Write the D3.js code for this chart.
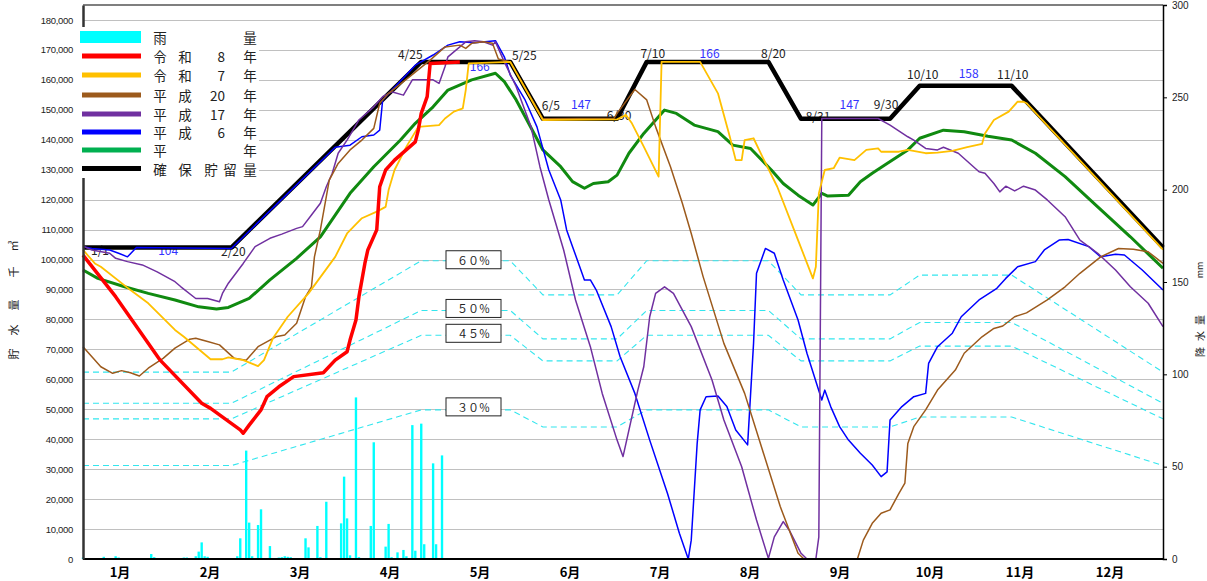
<!DOCTYPE html>
<html>
<head>
<meta charset="utf-8">
<script src="https://cdn.jsdelivr.net/npm/d3@7/dist/d3.min.js"></script>
<style>
  body { margin: 0; background: #fff; }
  svg { display: block; font-family: "Noto Sans CJK JP", "Liberation Sans", sans-serif; }
</style>
</head>
<body>
<svg id="chart" width="1207" height="581"></svg>
<script>
// storage values are in 百万m³ (1 unit = 1,000 千m³ on the left axis)
const months = ['1月', '2月', '3月', '4月', '5月', '6月', '7月', '8月', '9月', '10月', '11月', '12月'];

// 確保貯留量 rule curve
const kakuho = [['1/1', 104], ['2/20', 104], ['4/25', 166], ['5/25', 166], ['6/5', 147], ['6/30', 147],
  ['7/10', 166], ['8/20', 166], ['8/31', 147], ['9/30', 147], ['10/10', 158], ['11/10', 158], ['12/31', 104]];
const kakuhoLabels = ['1/1', '2/20', '4/25', '5/25', '6/5', '6/30', '7/10', '8/20', '8/31', '9/30', '10/10', '11/10'];
const levelLabels = ['104', '166', '147', '166', '147', '158'];
const pctLevels = [0.6, 0.5, 0.45, 0.3];
const pctNames = ['６０％', '５０％', '４５％', '３０％'];

// 雨量 (mm)
const rain = [['1/1', 0.8], ['1/2', 0.5], ['1/3', 0.5], ['1/5', 0.5], ['1/8', 1.2], ['1/9', 0.5], ['1/12', 1.5],
  ['1/13', 0.8], ['1/24', 2.7], ['1/25', 1.0], ['2/2', 0.5], ['2/3', 0.5], ['2/4', 0.8], ['2/5', 0.8],
  ['2/6', 0.5], ['2/8', 1.5], ['2/9', 4.0], ['2/10', 9.0], ['2/11', 1.5], ['2/12', 1.2], ['2/20', 0.5],
  ['2/22', 1.5], ['2/23', 11.2], ['2/25', 58.7], ['2/26', 19.7], ['2/27', 1.5], ['3/1', 18.4], ['3/2', 26.9],
  ['3/5', 7.0], ['3/8', 0.8], ['3/9', 1.0], ['3/10', 1.5], ['3/11', 1.2], ['3/12', 1.0], ['3/13', 0.5],
  ['3/17', 11.2], ['3/18', 6.3], ['3/21', 17.9], ['3/22', 1.0], ['3/24', 31.0], ['3/26', 0.5], ['3/29', 19.3],
  ['3/30', 44.6], ['3/31', 22.0], ['4/1', 2.0], ['4/3', 87.5], ['4/4', 1.0], ['4/8', 17.9], ['4/9', 63.2],
  ['4/13', 6.7], ['4/14', 19.0], ['4/15', 1.0], ['4/17', 3.6], ['4/19', 4.9], ['4/20', 1.5], ['4/22', 72.5],
  ['4/23', 4.5], ['4/25', 73.3], ['4/26', 8.0], ['4/29', 51.8], ['4/30', 8.0], ['5/2', 56.1]];

// 令和8年
const reiwa8 = [['1/1', 101.5], ['1/12', 87.6], ['1/27', 66.4], ['2/10', 52.0], ['2/13', 50.3], ['2/23', 43.1],
  ['2/24', 42.0], ['2/26', 44.7], ['3/2', 49.8], ['3/4', 54.2], ['3/8', 57.5], ['3/13', 60.9], ['3/23', 62.2],
  ['3/27', 66.4], ['3/31', 69.2], ['4/1', 73.1], ['4/3', 79.8], ['4/4', 87.6], ['4/6', 98.7], ['4/7', 103.2],
  ['4/10', 109.9], ['4/11', 124.3], ['4/13', 129.9], ['4/16', 133.2], ['4/23', 139.3], ['4/24', 143.2],
  ['4/25', 148.8], ['4/27', 154.4], ['4/28', 165.5], ['5/8', 166]];

// 令和7年
const reiwa7 = [['1/1', 103.2], ['1/5', 98.7], ['1/7', 97.6], ['1/17', 89.8], ['1/23', 85.4], ['2/1', 76.5],
  ['2/4', 74.2], ['2/13', 66.7], ['2/17', 66.7], ['2/19', 67.3], ['2/24', 66.4], ['3/1', 64.4], ['3/3', 66.4],
  ['3/6', 73.7], ['3/11', 80.9], ['3/18', 88.7], ['3/27', 100.9], ['3/31', 108.7], ['4/5', 113.8],
  ['4/10', 116], ['4/13', 117.6], ['4/14', 123.2], ['4/16', 129.9], ['4/20', 137.7], ['4/24', 144.3],
  ['5/1', 144.9], ['5/3', 147.1], ['5/6', 149.4], ['5/9', 150.5], ['5/10', 156.6], ['5/11', 165.5],
  ['5/25', 166], ['6/5', 146.6], ['6/30', 146.8], ['7/3', 148.3], ['7/5', 145.5], ['7/9', 137.7],
  ['7/14', 127.7], ['7/15', 166], ['7/28', 166], ['8/3', 155.5], ['8/7', 141], ['8/9', 133.2], ['8/11', 133.2],
  ['8/12', 139.9], ['8/15', 140.5], ['8/18', 134.3], ['8/23', 124.3], ['8/30', 106.5], ['9/4', 93.7],
  ['9/5', 97.6], ['9/6', 122.1], ['9/8', 129.9], ['9/11', 130.5], ['9/13', 134], ['9/18', 133.2],
  ['9/22', 136.6], ['9/26', 137.1], ['9/27', 136], ['10/3', 136], ['10/6', 136.6], ['10/12', 135.5],
  ['10/16', 135.7], ['10/21', 136.3], ['10/26', 137.5], ['10/31', 138.6], ['11/1', 142.1], ['11/4', 146.6],
  ['11/9', 149.4], ['11/12', 152.7], ['11/14', 152.7], ['11/15', 152.2], ['12/31', 103.3]];

// 平成20年
const heisei20 = [['1/1', 70.9], ['1/4', 67.5], ['1/7', 64.2], ['1/11', 62.0], ['1/14', 62.9], ['1/17', 62.2],
  ['1/20', 61.1], ['1/23', 63.7], ['1/28', 67.0], ['2/1', 70.4], ['2/6', 73.4], ['2/8', 73.7], ['2/12', 72.6],
  ['2/16', 71.5], ['2/21', 67.0], ['2/25', 66.4], ['3/1', 70.9], ['3/7', 74.2], ['3/10', 74.8], ['3/14', 78.7],
  ['3/17', 87.6], ['3/19', 90.9], ['3/20', 100.9], ['3/22', 109.9], ['3/25', 126.5], ['3/28', 132.1],
  ['4/1', 136.6], ['4/5', 139.9], ['4/9', 143.8], ['4/11', 152.2], ['4/14', 155.5], ['4/21', 161],
  ['4/28', 166.6], ['5/3', 171], ['5/8', 171.6], ['5/10', 170.5], ['5/12', 172.2], ['5/16', 172.7],
  ['5/19', 172.2], ['5/21', 167], ['5/25', 166], ['6/5', 147], ['6/29', 147.2], ['6/30', 148.8],
  ['7/6', 156.8], ['7/10', 153.3], ['7/13', 144.3], ['7/18', 131], ['7/22', 118.8], ['7/25', 108.7],
  ['7/29', 94.3], ['8/5', 72], ['8/12', 55.3], ['8/18', 36.4], ['8/24', 17.5], ['8/30', 1.9], ['9/1', 0],
  ['9/19', 0], ['9/21', 6.3], ['9/24', 11.9], ['9/27', 15.3], ['9/30', 16.4], ['10/3', 21.9], ['10/5', 25.3],
  ['10/6', 38.6], ['10/8', 44.2], ['10/12', 49.8], ['10/16', 56.4], ['10/22', 63.1], ['10/25', 68.7],
  ['10/31', 74.2], ['11/4', 77.0], ['11/7', 77.8], ['11/11', 80.9], ['11/15', 82.2], ['11/22', 86.5],
  ['11/28', 90.9], ['12/3', 95.4], ['12/10', 100.9], ['12/16', 103.7], ['12/21', 103.4], ['12/26', 102.6],
  ['12/31', 98.7]];

// 平成17年
const heisei17 = [['1/1', 104.5], ['1/4', 103.2], ['1/10', 102.1], ['1/12', 100.4], ['1/16', 99.3],
  ['1/21', 98.2], ['1/26', 95.9], ['2/1', 92.6], ['2/3', 90.9], ['2/8', 87.0], ['2/12', 87.0], ['2/16', 85.9],
  ['2/17', 88.7], ['2/19', 92.1], ['2/24', 98.7], ['2/28', 104.3], ['3/5', 107.1], ['3/9', 108.5],
  ['3/14', 110.4], ['3/16', 111], ['3/19', 114.9], ['3/22', 118.8], ['3/24', 124.3], ['3/26', 128.8],
  ['3/28', 135.5], ['3/31', 139.9], ['4/4', 146.6], ['4/9', 151], ['4/12', 154.4], ['4/15', 156],
  ['4/19', 154.9], ['4/22', 160], ['4/29', 160], ['5/1', 158.8], ['5/3', 164.4], ['5/4', 167.7], ['5/8', 171],
  ['5/10', 172.7], ['5/13', 173.1], ['5/16', 172.7], ['5/19', 171.6], ['5/20', 172.7], ['5/23', 166],
  ['5/27', 157.7], ['6/1', 144.3], ['6/4', 131], ['6/7', 119.9], ['6/12', 103.2], ['6/16', 86.5],
  ['6/21', 70.9], ['6/25', 55.3], ['6/30', 39.7], ['7/2', 34.2], ['7/3', 38.6], ['7/7', 56.4], ['7/9', 64.2],
  ['7/11', 80.9], ['7/13', 88.7], ['7/16', 90.9], ['7/19', 88.7], ['7/25', 77.6], ['8/1', 59.8], ['8/5', 46.4],
  ['8/11', 30.8], ['8/16', 13], ['8/20', 0.2], ['8/22', 7.4], ['8/25', 12.5], ['8/27', 9.7], ['8/31', 1.9],
  ['9/2', 0], ['9/5', 0], ['9/6', 7.4], ['9/7', 147.1], ['9/26', 147.1], ['9/30', 144.9], ['10/6', 141],
  ['10/8', 139.9], ['10/12', 137.1], ['10/16', 136.6], ['10/18', 137.5], ['10/23', 135.5], ['10/30', 129.3],
  ['11/1', 128.8], ['11/4', 125.4], ['11/6', 122.6], ['11/8', 124.5], ['11/11', 122.9], ['11/14', 124.5],
  ['11/18', 123.2], ['11/22', 119.9], ['11/28', 114.3], ['12/3', 106.5], ['12/9', 102.1], ['12/15', 96.5],
  ['12/20', 90.9], ['12/26', 85.4], ['12/31', 77.6]];

// 平成6年
const heisei6 = [['1/1', 104.3], ['1/4', 103.7], ['1/10', 103.2], ['1/13', 102.1], ['1/16', 100.9],
  ['1/19', 104], ['2/20', 103.7], ['3/27', 137.5], ['4/1', 138.2], ['4/5', 141], ['4/9', 141.6],
  ['4/11', 143.2], ['4/12', 153.3], ['4/23', 164.9], ['4/29', 168.3], ['5/4', 171.6], ['5/8', 172.7],
  ['5/13', 172.4], ['5/20', 173.1], ['5/23', 167.7], ['5/25', 161.6], ['5/30', 153.3], ['6/3', 144.3],
  ['6/7', 129.9], ['6/11', 119.9], ['6/13', 109.9], ['6/15', 104.3], ['6/19', 93.2], ['6/21', 93.2],
  ['6/23', 89.8], ['6/28', 77.6], ['7/1', 67.6], ['7/6', 55.3], ['7/11', 39.7], ['7/17', 21.9], ['7/21', 8.6],
  ['7/24', 0], ['7/25', 6.3], ['7/27', 38.6], ['7/28', 49.8], ['7/30', 54.2], ['8/3', 54.4], ['8/6', 50.9],
  ['8/9', 43.1], ['8/13', 38.1], ['8/15', 72], ['8/16', 95.4], ['8/19', 103.7], ['8/22', 102.1],
  ['8/25', 93.2], ['8/30', 79.8], ['9/2', 68.7], ['9/7', 53.1], ['9/8', 56.4], ['9/10', 50.9], ['9/13', 44.2],
  ['9/16', 39.7], ['9/20', 35.3], ['9/24', 31.4], ['9/27', 27.5], ['9/29', 29.1], ['9/30', 46.4],
  ['10/4', 50.9], ['10/8', 54.2], ['10/12', 55.3], ['10/13', 65.3], ['10/16', 70.9], ['10/21', 75.4],
  ['10/24', 80.9], ['10/30', 86.5], ['11/5', 90.4], ['11/8', 93.7], ['11/12', 97.6], ['11/18', 99.3],
  ['11/21', 103.2], ['11/26', 106.5], ['11/29', 106.7], ['12/6', 104.3], ['12/10', 100.9], ['12/15', 101.8],
  ['12/18', 101.5], ['12/24', 96.5], ['12/31', 89.8]];

// 平年
const heinen = [['1/1', 96.5], ['1/6', 93.7], ['1/15', 90.9], ['1/23', 88.7], ['2/1', 86.5], ['2/9', 84.2],
  ['2/15', 83.5], ['2/19', 84.0], ['2/26', 87.0], ['3/5', 93.2], ['3/14', 100.4], ['3/22', 107.6],
  ['4/1', 122.1], ['4/9', 131], ['4/18', 139.9], ['4/23', 145.5], ['4/29', 151], ['5/4', 156.6], ['5/12', 160],
  ['5/20', 162.2], ['5/23', 159.4], ['5/27', 153.3], ['6/5', 136.6], ['6/11', 131], ['6/15', 126],
  ['6/19', 123.8], ['6/22', 125.4], ['6/27', 126], ['6/30', 128.2], ['7/4', 135.5], ['7/9', 142.1],
  ['7/16', 149.9], ['7/20', 148.8], ['7/26', 144.9], ['8/3', 142.7], ['8/8', 138.2], ['8/14', 137.1],
  ['8/21', 129.9], ['8/25', 125.4], ['8/30', 121.5], ['9/4', 118.2], ['9/7', 122.1], ['9/9', 121.2],
  ['9/16', 121.5], ['9/20', 126], ['9/24', 128.8], ['9/29', 132.1], ['10/6', 136.6], ['10/10', 140.5],
  ['10/18', 143.2], ['10/25', 142.7], ['11/2', 141.2], ['11/10', 139.9], ['11/18', 135.5], ['11/28', 127.7],
  ['12/9', 117.6], ['12/20', 107.6], ['12/31', 97.1]];

const legendNames = [['雨', '', '', '量'], ['令', '和', '8', '年'], ['令', '和', '7', '年'], ['平', '成', '20', '年'],
  ['平', '成', '17', '年'], ['平', '成', '6', '年'], ['平', '', '', '年'], ['確', '保', '貯', '留', '量']];

// ---- layout ----
const M = { left: 83, right: 1163, top: 5, bottom: 559 };
const parse = s => {
  const [m, d] = s.split('/').map(Number);
  return new Date(2026, m - 1, d);
};
const svg = d3.select('#chart');
const x = d3.scaleTime().domain([parse('1/1'), parse('12/31')]).range([M.left, M.right]);
const y = d3.scaleLinear().domain([0, 185]).range([M.bottom, M.top]);
const yR = d3.scaleLinear().domain([0, 300]).range([M.bottom, M.top]);
const monthBand = d3.scaleBand().domain(months).range([75, 1155]);

// gridlines
svg.append('g').selectAll('line').data(d3.range(10, 190, 10)).join('line')
  .attr('x1', M.left).attr('x2', M.right)
  .attr('y1', d => Math.round(y(d)) + 0.5).attr('y2', d => Math.round(y(d)) + 0.5)
  .attr('stroke', '#c0c0c0').attr('stroke-width', 1.2);

// percentage guide lines
const line = d3.line().x(d => x(parse(d[0]))).y(d => y(d[1]));
const pctG = svg.append('g');
pctLevels.forEach(p => {
  pctG.append('path')
    .attr('d', line(kakuho.map(d => [d[0], d[1] * p])))
    .attr('fill', 'none').attr('stroke', '#33e6ee').attr('stroke-width', 1.1)
    .attr('stroke-dasharray', '6,4');
});

// rain bars
const dayW = x(parse('1/2')) - x(parse('1/1'));
svg.append('g').selectAll('rect').data(rain).join('rect')
  .attr('x', d => x(parse(d[0])) - dayW * 0.4)
  .attr('width', dayW * 0.8)
  .attr('y', d => yR(d[1]))
  .attr('height', d => M.bottom - yR(d[1]))
  .attr('fill', '#00ffff');

// rule curve labels (under the lines)
const labelOffsets = [[17, 2], [2, 3], [-11, -8], [14, -7], [8, -14], [2, -4], [6, -9], [5, -9], [17, -3],
  [-4, -15], [3, -12], [1, -12]];
const labG = svg.append('g').attr('font-size', 12).attr('text-anchor', 'middle')
  .attr('dominant-baseline', 'central');
kakuhoLabels.forEach((t, i) => {
  labG.append('text')
    .attr('x', x(parse(kakuho[i][0])) + labelOffsets[i][0])
    .attr('y', y(kakuho[i][1]) + labelOffsets[i][1])
    .attr('fill', '#222').text(t);
});
const levelOffsets = [[11, 2], [14, 4], [1, -15], [2, -9], [4, -15], [3, -13]];
levelLabels.forEach((t, i) => {
  const a = kakuho[i * 2], b = kakuho[i * 2 + 1];
  labG.append('text')
    .attr('x', (x(parse(a[0])) + x(parse(b[0]))) / 2 + levelOffsets[i][0])
    .attr('y', y(a[1]) + levelOffsets[i][1])
    .attr('fill', '#3333ff').text(t);
});

// series
const series = [
  { data: kakuho, color: '#000000', width: 4.5 },
  { data: heinen, color: '#108a10', width: 3 },
  { data: heisei6, color: '#0000ff', width: 1.5 },
  { data: heisei17, color: '#7030a0', width: 1.5 },
  { data: heisei20, color: '#9c5a1c', width: 1.5 },
  { data: reiwa7, color: '#ffc000', width: 1.8 },
  { data: reiwa8, color: '#ff0000', width: 3.5 }
];
svg.append('g').selectAll('path').data(series).join('path')
  .attr('d', d => line(d.data))
  .attr('fill', 'none')
  .attr('stroke', d => d.color)
  .attr('stroke-width', d => d.width)
  .attr('stroke-linejoin', 'round');

// percentage boxes
const boxShift = [-1, -2, -2, -3];
const boxG = svg.append('g');
pctLevels.forEach((p, i) => {
  const cy = y(166 * p) + boxShift[i];
  boxG.append('rect').attr('x', 446).attr('y', cy - 9).attr('width', 55).attr('height', 18)
    .attr('fill', '#fff').attr('stroke', '#222').attr('stroke-width', 1);
  boxG.append('text').attr('x', 473.5).attr('y', cy).attr('text-anchor', 'middle')
    .attr('dominant-baseline', 'central').attr('font-size', 11).attr('fill', '#222')
    .text(pctNames[i]);
});

// frame and axes
svg.append('line').attr('x1', M.left).attr('x2', M.right).attr('y1', M.top).attr('y2', M.top)
  .attr('stroke', '#555').attr('stroke-width', 1.5);
svg.append('line').attr('x1', M.left).attr('x2', M.right).attr('y1', M.bottom).attr('y2', M.bottom)
  .attr('stroke', '#000').attr('stroke-width', 2);

const axL = svg.append('g').attr('transform', `translate(${M.left},0)`)
  .call(d3.axisLeft(y).tickValues(d3.range(0, 190, 10)).tickSize(0).tickPadding(10)
    .tickFormat(d => d3.format(',')(d * 1000)));
axL.select('.domain').attr('stroke', '#333').attr('stroke-width', 2.5);
axL.selectAll('text').attr('font-family', '"Liberation Sans", Arial, sans-serif')
  .attr('font-size', 9.5).attr('letter-spacing', -0.3).attr('fill', '#222');

const axR = svg.append('g').attr('transform', `translate(${M.right},0)`)
  .call(d3.axisRight(yR).tickValues(d3.range(0, 350, 50)).tickSize(4).tickPadding(5));
axR.select('.domain').attr('stroke', '#000').attr('stroke-width', 1.5);
axR.selectAll('text').attr('font-family', '"Liberation Sans", Arial, sans-serif')
  .attr('font-size', 10).attr('fill', '#222');

svg.append('g').selectAll('text').data(months).join('text')
  .attr('x', d => monthBand(d) + monthBand.bandwidth() / 2)
  .attr('y', 577)
  .attr('text-anchor', 'middle').attr('font-size', 13).attr('font-weight', 'bold')
  .text(d => d);

// axis titles
const leftTitle = ['貯', '水', '量', '千', '㎥'];
const leftTitleY = [354, 330, 305, 272, 246];
leftTitle.forEach((c, i) => {
  svg.append('text').attr('transform', `translate(13,${leftTitleY[i]}) rotate(-90)`)
    .attr('text-anchor', 'middle').attr('dominant-baseline', 'central')
    .attr('font-size', 11).attr('fill', '#222').text(c);
});
const rightTitle = ['降', '水', '量', 'mm'];
const rightTitleY = [352, 336, 320, 270];
rightTitle.forEach((c, i) => {
  svg.append('text').attr('transform', `translate(1199,${rightTitleY[i]}) rotate(-90)`)
    .attr('text-anchor', 'middle').attr('dominant-baseline', 'central')
    .attr('font-size', i === 3 ? 9 : 10).attr('fill', '#222').text(c);
});

// legend
const legG = svg.append('g');
legG.append('rect').attr('x', 77).attr('y', 27).attr('width', 182).attr('height', 151).attr('fill', '#fff');
const legendColors = ['#00ffff', '#ff0000', '#ffc000', '#9c5a1c', '#7030a0', '#0000ff', '#00b050', '#000000'];
const legendRowY = [37, 56, 75, 95, 114, 132, 150, 168.5];
const colX4 = [160, 185, 225, 250];
const colX5 = [160, 185, 211, 230, 250];
legendNames.forEach((cells, i) => {
  const ry = legendRowY[i];
  if (i === 0) {
    legG.append('rect').attr('x', 80).attr('y', ry - 6).attr('width', 61).attr('height', 12)
      .attr('fill', legendColors[i]);
  } else {
    legG.append('line').attr('x1', 82).attr('x2', 141).attr('y1', ry).attr('y2', ry)
      .attr('stroke', legendColors[i]).attr('stroke-width', 5);
  }
  const cols = cells.length === 5 ? colX5 : colX4;
  cells.forEach((c, j) => {
    if (!c) return;
    const isNum = /\d/.test(c);
    legG.append('text').attr('x', cols[j]).attr('y', ry)
      .attr('text-anchor', isNum ? 'end' : 'middle').attr('dominant-baseline', 'central')
      .attr('font-size', 13.5).attr('fill', '#222').text(c);
  });
});
</script>
</body>
</html>
